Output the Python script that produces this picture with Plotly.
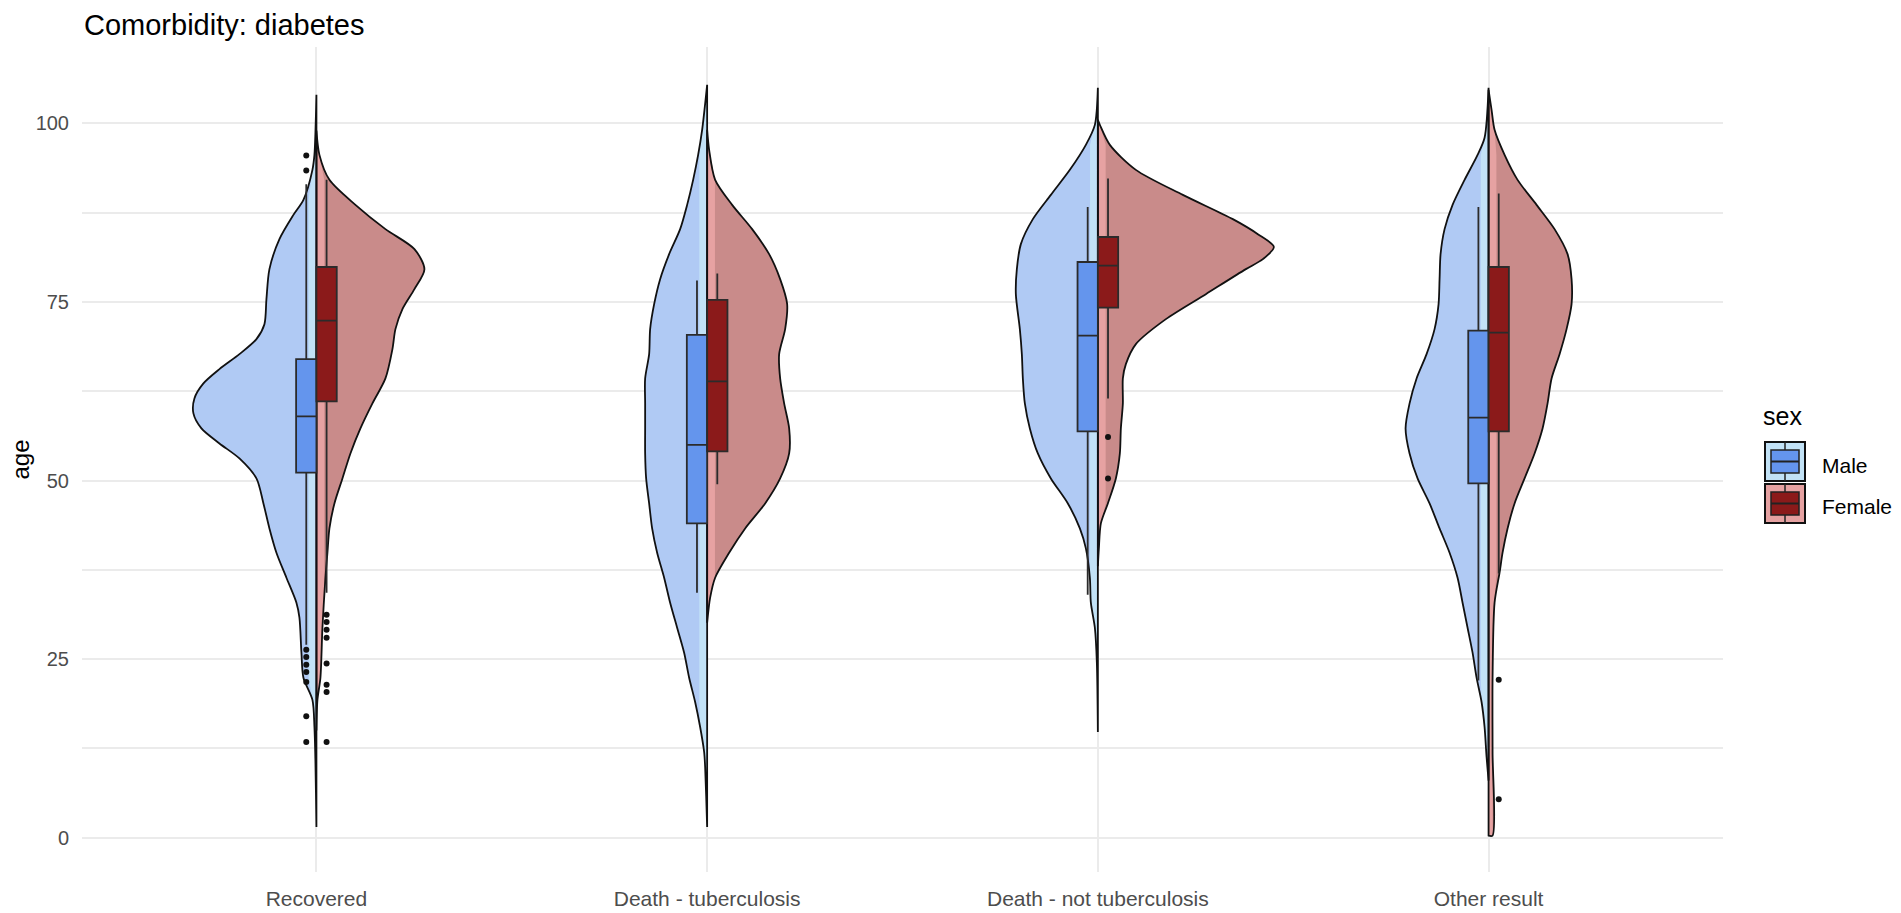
import plotly.graph_objects as go

# categories on the x axis
categories = ["Recovered", "Death - tuberculosis", "Death - not tuberculosis", "Other result"]

# violin outlines: age, relative density (half width)
rec_male_age = [104.0, 98.7, 95.6, 93.5, 89.3, 87.2, 83.8, 79.6, 75.4, 71.9, 69.8, 67.7, 65.6, 63.6, 61.5, 59.4,
                57.3, 55.2, 53.1, 50.3, 46.8, 43.3, 39.9, 36.4, 32.9, 30.8, 25.9, 22.4, 19.3, 15.5, 10.6, 1.5]
rec_male_dens = [0, 1, 2, 4, 13, 23, 37, 47, 50, 52, 60, 77, 97, 113, 122, 123,
                 115, 97, 77, 60, 53, 47, 40, 30, 20, 17, 15, 13, 4, 2, 1, 0]
rec_female_age = [99.0, 95.6, 92.1, 88.6, 85.2, 82.4, 79.6, 76.8, 74.0, 71.2, 68.4, 64.3, 60.8, 57.3, 53.8, 50.3,
                  46.8, 43.3, 39.9, 36.4, 29.4, 22.4, 19.3, 15.0]
rec_female_dens = [0, 3, 13, 39, 69, 98, 108, 98, 86, 79, 76, 69, 56, 44, 34, 26,
                   18, 13, 11, 9, 6, 4, 1, 0]

dtb_male_age = [105.4, 99.1, 95.6, 92.1, 88.6, 85.2, 81.7, 78.2, 74.7, 71.2, 67.7, 64.3, 60.8, 57.3, 53.8, 50.3,
                46.8, 43.3, 39.9, 36.4, 32.9, 29.4, 25.9, 22.4, 19.0, 15.5, 12.0, 9.9, 1.5]
dtb_male_dens = [0, 5, 9, 14, 20, 27, 38, 47, 53, 57, 58, 62, 62, 62, 62, 61,
                 58, 55, 50, 43, 37, 30, 23, 18, 12, 7, 3, 2, 0]
dtb_female_age = [99.1, 96.3, 92.1, 88.6, 85.2, 81.7, 78.2, 74.7, 71.2, 67.7, 64.3, 60.8, 57.3, 53.8, 50.3, 46.8,
                  43.3, 39.9, 36.4, 33.6, 30.1]
dtb_female_dens = [0, 2, 8, 25, 45, 62, 73, 80, 78, 72, 73, 77, 82, 82, 73, 58,
                   38, 22, 8, 3, 0]

dnt_male_age = [105.0, 99.8, 97.0, 93.5, 90.0, 86.6, 83.1, 79.6, 76.1, 71.2, 67.7, 64.3, 60.8, 57.3, 53.8, 50.3,
                46.8, 43.3, 40.5, 36.4, 32.9, 29.4, 24.5, 14.8]
dnt_male_dens = [0, 3, 12, 28, 47, 65, 77, 81, 82, 78, 76, 75, 73, 68, 60, 47,
                 30, 18, 12, 8, 7, 3, 1, 0]
dnt_female_age = [100.5, 99.8, 97.0, 93.5, 90.0, 86.6, 84.5, 82.7, 81.0, 79.6, 76.1, 72.6, 69.1, 66.3, 64.3, 60.8,
                  57.3, 53.8, 50.3, 46.8, 44.0, 40.5, 38.0]
dnt_female_dens = [0, 2, 12, 38, 85, 135, 160, 176, 165, 148, 108, 68, 38, 28, 25, 25,
                   23, 22, 18, 10, 3, 1, 0]

oth_male_age = [105.0, 98.0, 95.6, 92.1, 88.6, 85.2, 81.7, 78.2, 74.7, 71.2, 67.7, 64.3, 60.8, 57.3, 53.8, 50.3,
                46.8, 43.3, 39.9, 36.4, 32.9, 29.4, 25.9, 22.4, 19.0, 15.5, 11.3, 8.0]
oth_male_dens = [0, 4, 11, 24, 36, 44, 48, 49, 50, 54, 62, 72, 79, 83, 79, 71,
                 59, 49, 39, 31, 26, 21, 16, 12, 7, 4, 2, 0]
oth_female_age = [104.7, 101.9, 99.1, 95.6, 92.1, 88.6, 85.2, 81.7, 78.2, 74.7, 71.2, 67.7, 64.3, 60.8, 57.3, 53.8,
                  50.3, 46.8, 43.3, 39.9, 37.1, 32.9, 22.4, 12.0, 0.3, 0.3]
oth_female_dens = [0, 3, 6, 16, 29, 48, 66, 79, 83, 83, 78, 71, 63, 59, 54, 46,
                   36, 26, 19, 14, 11, 6, 4, 4, 4, 0]

# box plot statistics per category
male_q1 = [51.1, 44.0, 56.9, 49.6]
male_median = [59.0, 55.0, 70.3, 58.8]
male_q3 = [67.0, 70.4, 80.6, 71.0]
male_lower = [27.0, 34.3, 34.0, 22.0]
male_upper = [91.5, 78.0, 88.3, 88.3]
female_q1 = [61.1, 54.1, 74.2, 56.9]
female_median = [72.4, 63.9, 80.1, 70.7]
female_q3 = [79.9, 75.3, 84.1, 79.9]
female_lower = [34.3, 49.5, 61.5, 37.0]
female_upper = [92.1, 79.0, 92.3, 90.2]

# outliers (category index, age)
male_out_cat = [1, 1, 1, 1, 1, 1, 1, 1, 1]
male_out_age = [95.5, 93.4, 26.3, 25.3, 24.2, 23.2, 21.8, 17.0, 13.4]
female_out_cat = [1, 1, 1, 1, 1, 1, 1, 1, 3, 3, 4, 4]
female_out_age = [31.2, 30.2, 29.1, 28.0, 24.4, 21.4, 20.4, 13.4, 56.1, 50.3, 22.1, 5.4]

DENS_SCALE = 1 / 390.7   # density unit -> x axis units
STRIP = 0.02             # pale strip next to the centre line
BOX_W = 0.052

MALE_FILL = "#B0CAF4"
MALE_STRIP = "#C2E2F6"
MALE_BOX = "#6495ED"
FEM_FILL = "#C98B8A"
FEM_STRIP = "#E6A2A2"
FEM_BOX = "#8B1A1A"
OUTLINE = "#111111"

XR = [0.4, 4.6]
YR = [-4.8, 110.7]

fig = go.Figure()

halves = [
    (1, -1, rec_male_age, rec_male_dens), (1, 1, rec_female_age, rec_female_dens),
    (2, -1, dtb_male_age, dtb_male_dens), (2, 1, dtb_female_age, dtb_female_dens),
    (3, -1, dnt_male_age, dnt_male_dens), (3, 1, dnt_female_age, dnt_female_dens),
    (4, -1, oth_male_age, oth_male_dens), (4, 1, oth_female_age, oth_female_dens),
]

outlines = []
for cat, side, ages, dens in halves:
    fill = MALE_FILL if side < 0 else FEM_FILL
    strip = MALE_STRIP if side < 0 else FEM_STRIP
    xs = [cat + side * d * DENS_SCALE for d in dens]
    xo = xs + [cat, cat, xs[0]]
    yo = ages + [ages[-1], ages[0], ages[0]]
    fig.add_trace(go.Scatter(x=xo, y=yo, mode="lines", fill="toself", fillcolor=fill,
                             line=dict(width=0, shape="spline", smoothing=0.8), hoverinfo="skip"))
    xs2 = [cat + side * min(d * DENS_SCALE, STRIP) for d in dens]
    fig.add_trace(go.Scatter(x=xs2 + [cat, cat, xs2[0]], y=yo, mode="lines", fill="toself",
                             fillcolor=strip, line=dict(width=0), hoverinfo="skip"))
    outlines.append((xo, yo))

for xo, yo in outlines:
    fig.add_trace(go.Scatter(x=xo, y=yo, mode="lines", hoverinfo="skip",
                             line=dict(color=OUTLINE, width=1.8, shape="spline", smoothing=0.8)))

# boxes live on an overlaying axis pair so they are drawn above the violins
cats = [1, 2, 3, 4]
fig.add_trace(go.Box(x=[c - BOX_W / 2 for c in cats], q1=male_q1, median=male_median, q3=male_q3,
                     lowerfence=male_lower, upperfence=male_upper, width=BOX_W, whiskerwidth=0,
                     orientation="v", fillcolor=MALE_BOX, line=dict(color="#2b2b2b", width=1.8),
                     boxpoints=False, name="Male", xaxis="x2", yaxis="y2"))
fig.add_trace(go.Box(x=[c + BOX_W / 2 for c in cats], q1=female_q1, median=female_median, q3=female_q3,
                     lowerfence=female_lower, upperfence=female_upper, width=BOX_W, whiskerwidth=0,
                     orientation="v", fillcolor=FEM_BOX, line=dict(color="#2b2b2b", width=1.8),
                     boxpoints=False, name="Female", xaxis="x2", yaxis="y2"))
fig.add_trace(go.Scatter(x=[c - BOX_W / 2 for c in male_out_cat], y=male_out_age, mode="markers",
                         marker=dict(color="#111111", size=6), xaxis="x2", yaxis="y2"))
fig.add_trace(go.Scatter(x=[c + BOX_W / 2 for c in female_out_cat], y=female_out_age, mode="markers",
                         marker=dict(color="#111111", size=6), xaxis="x2", yaxis="y2"))

# the page body adds 8px, so pixel positions from the reference are shifted back by it
OFF = 8
W, H = 1901 - OFF, 913 - OFF
L, R, T, B = 82, 1723, 47, 872


def px_x(p):
    return (p - L) / (R - L)


def px_y(p):
    return (B - p) / (B - T)


def key(y0, bg, box):
    fig.add_shape(type="rect", xref="paper", yref="paper", x0=px_x(1765), x1=px_x(1805),
                  y0=px_y(y0), y1=px_y(y0 + 39), fillcolor=bg, line=dict(color="#111", width=2))
    fig.add_shape(type="line", xref="paper", yref="paper", x0=px_x(1785), x1=px_x(1785),
                  y0=px_y(y0), y1=px_y(y0 + 39), line=dict(color="#222", width=1.5))
    fig.add_shape(type="rect", xref="paper", yref="paper", x0=px_x(1771), x1=px_x(1799),
                  y0=px_y(y0 + 8), y1=px_y(y0 + 31), fillcolor=box, line=dict(color="#222", width=1.5))
    fig.add_shape(type="line", xref="paper", yref="paper", x0=px_x(1771), x1=px_x(1799),
                  y0=px_y(y0 + 19.5), y1=px_y(y0 + 19.5), line=dict(color="#222", width=2))


key(442, MALE_STRIP, MALE_BOX)
key(484, FEM_STRIP, FEM_BOX)

ann = [
    dict(text="Comorbidity: diabetes", x=0, y=px_y(25), xanchor="left", yanchor="middle",
         font=dict(size=29, color="black")),
    dict(text="age", x=px_x(20), y=0.5, textangle=-90, xanchor="center", yanchor="middle",
         font=dict(size=24, color="black")),
    dict(text="sex", x=px_x(1761), y=px_y(416), xanchor="left", yanchor="middle",
         font=dict(size=25, color="black")),
    dict(text="Male", x=px_x(1820), y=px_y(466), xanchor="left", yanchor="middle",
         font=dict(size=21, color="black")),
    dict(text="Female", x=px_x(1820), y=px_y(506), xanchor="left", yanchor="middle",
         font=dict(size=21, color="black")),
]
for a in ann:
    fig.add_annotation(xref="paper", yref="paper", showarrow=False, **a)

fig.update_layout(
    width=W, height=H,
    margin=dict(l=L - OFF, r=W - (R - OFF), t=T - OFF, b=H - (B - OFF)),
    plot_bgcolor="white", paper_bgcolor="white",
    showlegend=False, boxmode="overlay",
    font=dict(family="Liberation Sans, Arial, sans-serif", size=21, color="#4D4D4D"),
    xaxis2=dict(overlaying="x", range=XR, visible=False),
    yaxis2=dict(overlaying="y", range=YR, visible=False),
)
fig.layout.xaxis.update(range=XR, tickvals=cats, ticktext=categories, showgrid=True,
                        gridcolor="#EBEBEB", gridwidth=2, zeroline=False, ticks="", showline=False,
                        automargin=False, ticklabelstandoff=12, tickfont=dict(size=21, color="#4D4D4D"))
fig.layout.yaxis.update(range=YR, tickvals=[0, 25, 50, 75, 100], showgrid=True,
                        gridcolor="#EBEBEB", gridwidth=2, zeroline=False, ticks="", showline=False,
                        automargin=False, ticklabelstandoff=12, tickfont=dict(size=20, color="#4D4D4D"),
                        minor=dict(tickvals=[12.5, 37.5, 62.5, 87.5], showgrid=True,
                                   gridcolor="#EBEBEB", gridwidth=1.6))

fig.write_html("out.html")
